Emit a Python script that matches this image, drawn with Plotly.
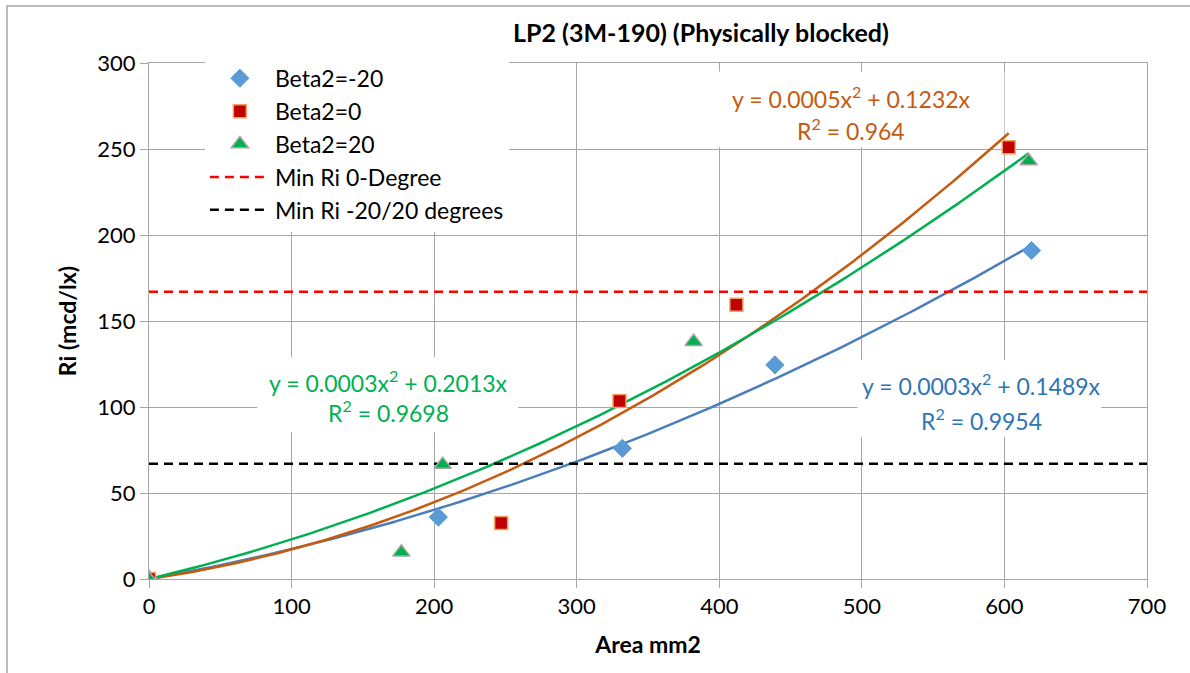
import numpy as np
import plotly.graph_objects as go

# ---- data ----
x_m20 = [0, 203, 332, 439, 619]
y_m20 = [0, 36, 76, 124.5, 191]
x_0 = [0, 247, 330, 412, 603]
y_0 = [0, 32.5, 103.5, 159.5, 251]
x_p20 = [0, 177, 206, 382, 617]
y_p20 = [0, 15.5, 66.5, 138, 243]
min_ri_0deg = 167
min_ri_20deg = 67
x_range = [0, 700]
y_range = [0, 300]
x_ticks = [0, 100, 200, 300, 400, 500, 600, 700]
y_ticks = [0, 50, 100, 150, 200, 250, 300]

eq_m20 = ["y = 0.0003x<sup>2</sup> + 0.1489x", "R<sup>2</sup> = 0.9954"]
eq_0 = ["y = 0.0005x<sup>2</sup> + 0.1232x", "R<sup>2</sup> = 0.964"]
eq_p20 = ["y = 0.0003x<sup>2</sup> + 0.2013x", "R<sup>2</sup> = 0.9698"]

FONT = "Lato"
BLUE_M = "#5B9BD5"
BLUE_L = "#4A7EBB"
BLUE_T = "#2E75B6"
RED = "#C00000"
ORANGE = "#C55A11"
GREEN = "#00B050"
GRID = "#A6A6A6"


def fit_poly2_zero(x, y):
    x = np.asarray(x, float)
    y = np.asarray(y, float)
    A = np.column_stack([x ** 2, x])
    coef, *_ = np.linalg.lstsq(A, y, rcond=None)
    xs = np.linspace(0, x.max(), 200)
    return xs, coef[0] * xs ** 2 + coef[1] * xs


fig = go.Figure()

# trend lines
for xs_, ys_, col in [(x_m20, y_m20, BLUE_L), (x_0, y_0, ORANGE), (x_p20, y_p20, GREEN)]:
    tx, ty = fit_poly2_zero(xs_, ys_)
    fig.add_trace(go.Scatter(x=tx, y=ty, mode="lines", line=dict(color=col, width=2.5),
                             showlegend=False, hoverinfo="skip"))

# reference lines
fig.add_trace(go.Scatter(x=x_range, y=[min_ri_0deg] * 2, mode="lines", name="Min Ri 0-Degree",
                         line=dict(color="#FF0000", width=2.5, dash="9px,6px")))
fig.add_trace(go.Scatter(x=x_range, y=[min_ri_20deg] * 2, mode="lines", name="Min Ri -20/20 degrees",
                         line=dict(color="#000000", width=2.5, dash="9px,6px")))

# data points
fig.add_trace(go.Scatter(x=x_m20, y=y_m20, mode="markers", name="Beta2=-20",
                         marker=dict(symbol="diamond", size=14, color=BLUE_M,
                                     line=dict(color=BLUE_M, width=1))))
fig.add_trace(go.Scatter(x=x_0, y=y_0, mode="markers", name="Beta2=0",
                         marker=dict(symbol="square", size=13, color=RED,
                                     line=dict(color="#F4A460", width=1.5))))
fig.add_trace(go.Scatter(x=x_p20, y=y_p20, mode="markers", name="Beta2=20",
                         marker=dict(symbol="triangle-up", size=15, color=GREEN,
                                     line=dict(color="#A5A5A5", width=1.5))))

legend_rank = {"Beta2=-20": 1, "Beta2=0": 2, "Beta2=20": 3, "Min Ri 0-Degree": 4, "Min Ri -20/20 degrees": 5}
for tr in fig.data:
    if tr.name in legend_rank:
        tr.legendrank = legend_rank[tr.name]

# white label boxes (between grid and data)
boxes = [(398, 600, 251, 295), (76, 259, 85.5, 129), (497, 668, 82.6, 127.3)]
for x0, x1, y0, y1 in boxes:
    fig.add_shape(type="rect", x0=x0, x1=x1, y0=y0, y1=y1, xref="x", yref="y",
                  fillcolor="white", line=dict(width=0), layer="between")

# equation labels
labels = [
    (eq_0, 492.4, [279.7, 261.6], ORANGE),
    (eq_p20, 168.3, [114.7, 97.3], GREEN),
    (eq_m20, 584, [112.8, 92.8], BLUE_T),
]
for lines, lx, lys, col in labels:
    for txt, ly in zip(lines, lys):
        fig.add_annotation(x=lx, y=ly, xref="x", yref="y", text=txt, showarrow=False,
                           font=dict(family=FONT, size=23, color=col), xanchor="center",
                           yanchor="middle")

# outer chart border
fig.add_shape(type="rect", xref="paper", yref="paper", x0=-0.1423, x1=1.05, y0=-0.2, y1=1.1105,
              line=dict(color="#A6A6A6", width=1.5), fillcolor="rgba(0,0,0,0)", layer="above")

axis_common = dict(showgrid=True, gridcolor=GRID, gridwidth=1, showline=True, linecolor=GRID,
                   linewidth=1, mirror=True, ticks="outside", ticklen=8, tickcolor=GRID,
                   zeroline=False, tickfont=dict(family=FONT, size=22, color="#000000"))

fig.update_layout(
    width=1190, height=673,
    margin=dict(l=149, r=43, t=63, b=94),
    paper_bgcolor="white", plot_bgcolor="white",
    title=dict(text="<b>LP2 (3M-190) (Physically blocked)</b>", x=(701) / 1190, xanchor="center",
               y=1 - 33 / 673, yanchor="middle", font=dict(family=FONT, size=25, color="#000000")),
    xaxis=dict(range=x_range, tickvals=x_ticks, ticktext=[str(v) for v in x_ticks],
               title=dict(text="<b>Area mm2</b>", font=dict(family=FONT, size=23, color="#000000"),
                          standoff=18), **axis_common),
    yaxis=dict(range=y_range, tickvals=y_ticks, ticktext=[str(v) for v in y_ticks],
               title=dict(text="<b>Ri (mcd/lx)</b>", font=dict(family=FONT, size=23, color="#000000"),
                          standoff=14), **axis_common),
    legend=dict(x=0.056, y=1.012, xanchor="left", yanchor="top", bgcolor="white",
                font=dict(family=FONT, size=23, color="#000000"), itemwidth=60,
                traceorder="normal", tracegroupgap=0),
    showlegend=True,
)

fig.write_html("out.html")
